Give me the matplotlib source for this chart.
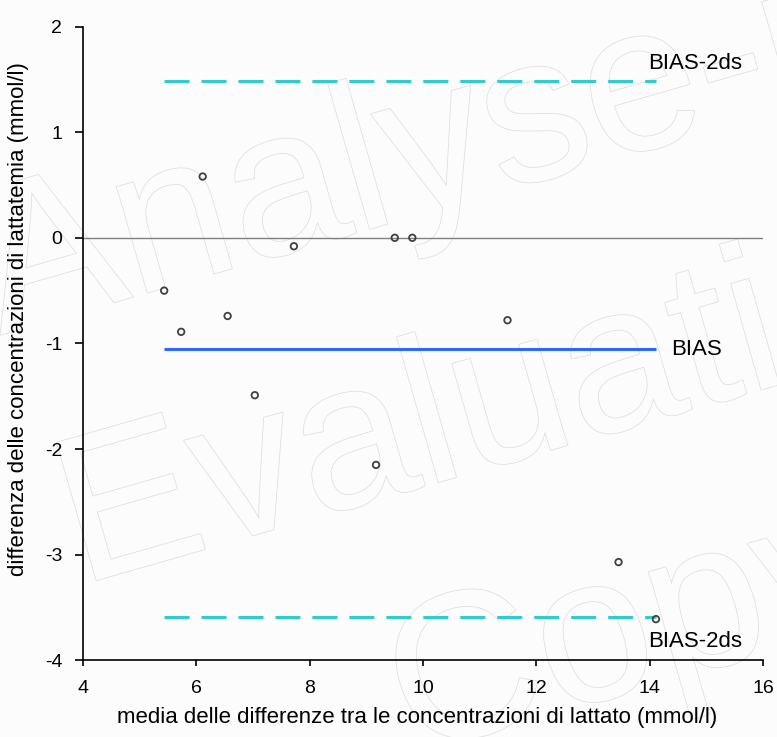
import matplotlib.pyplot as plt
import matplotlib.patheffects as pe
import numpy as np

# media (x) e differenza (y) delle concentrazioni di lattato
media = [5.43, 5.73, 6.11, 6.55, 7.03, 7.72, 9.17, 9.50, 9.81, 11.49, 13.45, 14.11]
diff = [-0.50, -0.89, 0.58, -0.74, -1.49, -0.08, -2.15, 0.0, 0.0, -0.78, -3.07, -3.61]
bias = -1.05
lim_sup = 1.48
lim_inf = -3.59

plt.rcParams['font.family'] = ['Liberation Sans', 'DejaVu Sans']
plt.rcParams['axes.unicode_minus'] = False

W, H = 777, 737
fig = plt.figure(figsize=(W / 100, H / 100), dpi=100)
fig.patch.set_facecolor('#fcfcfc')
ax = fig.add_axes([0.107, 0.104, 0.875, 0.86])
ax.set_facecolor('none')
ax.set_zorder(1)  # grafico sopra la filigrana

# filigrana "Analyse-it Evaluation Copy" (solo contorno)
wm = dict(fontsize=150, color='#fcfcfc', rotation=16, rotation_mode='anchor',
          ha='left', va='baseline', zorder=0,
          path_effects=[pe.withStroke(linewidth=1.1, foreground='#dedede')])
for testo, px, py in [('Analyse-it', 0, 335), ('Evaluation', 80, 585), ('Copy', 410, 755)]:
    fig.text(px / W, 1 - py / H, testo, **wm)

x0, x1 = min(media), max(media)
ax.axhline(0, color='#808080', lw=1, zorder=1)
ax.hlines(bias, x0, x1, color='#3366ff', lw=2.2, zorder=2)
ax.hlines([lim_sup, lim_inf], x0, x1, color='#33cccc', lw=2.2,
          linestyles=(0, (8.2, 3.9)), zorder=2)
ax.scatter(media, diff, s=22, facecolors='none', edgecolors='#404040',
           linewidths=1.3, zorder=3)

ax.text(13.98, 1.65, 'BIAS-2ds', fontsize=16, va='center')
ax.text(14.37, -1.06, 'BIAS', fontsize=16, va='center')
ax.text(13.98, -3.82, 'BIAS-2ds', fontsize=16, va='center')

ax.set_xlim(4, 16)
ax.set_ylim(-4, 2)
ax.set_xticks(np.arange(4, 17, 2))
ax.set_yticks(np.arange(-4, 3, 1))
ax.spines['top'].set_visible(False)
ax.spines['right'].set_visible(False)
ax.spines['left'].set_linewidth(1.2)
ax.spines['bottom'].set_linewidth(1.2)
ax.tick_params(labelsize=14, width=1.2)
ax.tick_params(axis='x', length=4, pad=10)
ax.tick_params(axis='y', length=6, pad=9)
ax.set_xlabel('media delle differenze tra le concentrazioni di lattato (mmol/l)', fontsize=16)
ax.set_ylabel('differenza delle concentrazioni di lattatemia (mmol/l)', fontsize=16)
ax.xaxis.set_label_coords(0.491, -0.073)
ax.yaxis.set_label_coords(-0.08, 0.539)

fig.savefig('out.png', dpi=100, facecolor=fig.get_facecolor())
